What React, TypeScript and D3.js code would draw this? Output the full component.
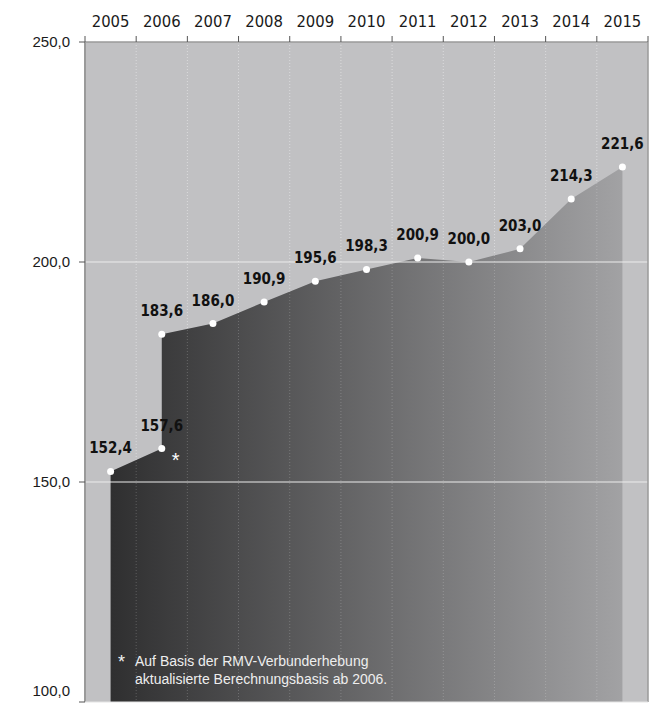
import React from 'react';
import * as d3 from 'd3';

const years = ['2005', '2006', '2007', '2008', '2009', '2010', '2011', '2012', '2013', '2014', '2015'];
const values = [152.4, 157.6, 186.0, 190.9, 195.6, 198.3, 200.9, 200.0, 203.0, 214.3, 221.6];
// 2006 recalculated on the new RMV basis
const stepYear = '2006';
const stepValue = 183.6;
const yTicks = [100, 150, 200, 250];
const footnote = ['Auf Basis der RMV-Verbunderhebung', 'aktualisierte Berechnungsbasis ab 2006.'];

const fmt = (v: number) => v.toFixed(1).replace('.', ',');

export default function App() {
	const width = 652;
	const height = 707;
	const margin = { top: 42, right: 4, bottom: 5, left: 85 };

	const x = d3.scaleBand<string>()
		.domain(years)
		.range([margin.left, width - margin.right])
		.padding(0);

	const y = d3.scaleLinear()
		.domain([100, 250])
		.range([height - margin.bottom, margin.top]);

	const cx = (yr: string) => (x(yr) as number) + x.bandwidth() / 2;

	// line points incl. the step at 2006
	const pts: [number, number][] = [];
	years.forEach((yr, i) => {
		pts.push([cx(yr), y(values[i])]);
		if (yr === stepYear) pts.push([cx(yr), y(stepValue)]);
	});

	const area = d3.area<[number, number]>()
		.x(d => d[0])
		.y0(y(100))
		.y1(d => d[1]);

	const x0 = margin.left;
	const x1 = width - margin.right;
	const yTop = margin.top;
	const yBot = y(100);

	const labels = years.map((yr, i) => ({ x: cx(yr), y: y(values[i]), text: fmt(values[i]) }));
	labels.push({ x: cx(stepYear), y: y(stepValue), text: fmt(stepValue) });

	return (
		<svg width={width} height={height} style={{ position: 'absolute', left: 0, top: 0, background: '#fff' }}>
			<defs>
				<linearGradient id="areaGrad" gradientUnits="userSpaceOnUse" x1={cx(years[0])} y1={0} x2={cx(years[years.length - 1])} y2={0}>
					<stop offset="0%" stopColor="#2f2f30" />
					<stop offset="100%" stopColor="#a2a2a4" />
				</linearGradient>
			</defs>

			<rect x={x0} y={yTop} width={x1 - x0} height={yBot - yTop} fill="#c1c1c3" />

			{/* vertical dotted lines at band edges */}
			{years.slice(1).map(yr => (
				<line key={'v' + yr} x1={x(yr)} x2={x(yr)} y1={yTop} y2={yBot}
					stroke="#d2d2d4" strokeWidth={1} strokeDasharray="1,2" />
			))}

			<path d={area(pts) || ''} fill="url(#areaGrad)" />

			{years.slice(1).map(yr => (
				<line key={'v2' + yr} x1={x(yr)} x2={x(yr)} y1={yTop} y2={yBot}
					stroke="#ffffff" strokeOpacity={0.2} strokeWidth={1} strokeDasharray="1,2" />
			))}

			{/* horizontal gridlines */}
			{yTicks.slice(1, -1).map(t => (
				<line key={'g' + t} x1={x0} x2={x1} y1={y(t)} y2={y(t)} stroke="#ececec" strokeWidth={1} />
			))}

			{/* frame */}
			<line x1={x0} x2={x1} y1={yTop} y2={yTop} stroke="#9a9a9a" strokeWidth={1.5} />
			<line x1={x0} x2={x0} y1={yTop} y2={yBot} stroke="#9a9a9a" strokeWidth={2} />
			<line x1={x1} x2={x1} y1={yTop} y2={yBot} stroke="#9a9a9a" strokeWidth={1.5} />
			<line x1={x0} x2={x1} y1={yBot} y2={yBot} stroke="#e4e4e4" strokeWidth={1} />

			{/* top axis */}
			{[...years.map(yr => x(yr) as number), x1].map((px, i) => (
				<line key={'t' + i} x1={px} x2={px} y1={yTop - 6} y2={yTop} stroke="#555" strokeWidth={1} />
			))}
			{years.map(yr => (
				<text key={'yl' + yr} x={cx(yr)} y={27} textAnchor="middle"
					fontFamily="DejaVu Sans Condensed, DejaVu Sans" fontSize={16.5} fill="#1a1a1a">{yr}</text>
			))}

			{/* left axis */}
			{yTicks.map((t, i) => (
				<g key={'yt' + t}>
					<line x1={x0 - 6} x2={x0} y1={y(t)} y2={y(t)} stroke="#555" strokeWidth={1} />
					<text x={x0 - 15} y={i === 0 ? y(t) - 6 : y(t) + 5} textAnchor="end"
						fontFamily="Liberation Sans, Arial" fontSize={15} fill="#1a1a1a">{fmt(t)}</text>
				</g>
			))}

			{/* points */}
			{labels.map((l, i) => (
				<circle key={'c' + i} cx={l.x} cy={l.y} r={3.5} fill="#fff" />
			))}
			{labels.map((l, i) => (
				<text key={'l' + i} x={l.x} y={l.y - 18} textAnchor="middle"
					fontFamily="DejaVu Sans Condensed, DejaVu Sans" fontWeight="bold" fontSize={15} fill="#111">{l.text}</text>
			))}

			<text x={cx(stepYear) + 14} y={y(values[1]) + 18} textAnchor="middle"
				fontFamily="Liberation Sans, Arial" fontSize={20} fill="#fff">*</text>

			{/* footnote */}
			<text x={118} y={668} fontFamily="Liberation Sans, Arial" fontSize={18} fill="#f2f2f2">*</text>
			{footnote.map((line, i) => (
				<text key={'f' + i} x={135} y={666 + i * 18} fontFamily="Liberation Sans, Arial" fontSize={14} fill="#eeeeee">{line}</text>
			))}
		</svg>
	);
}
